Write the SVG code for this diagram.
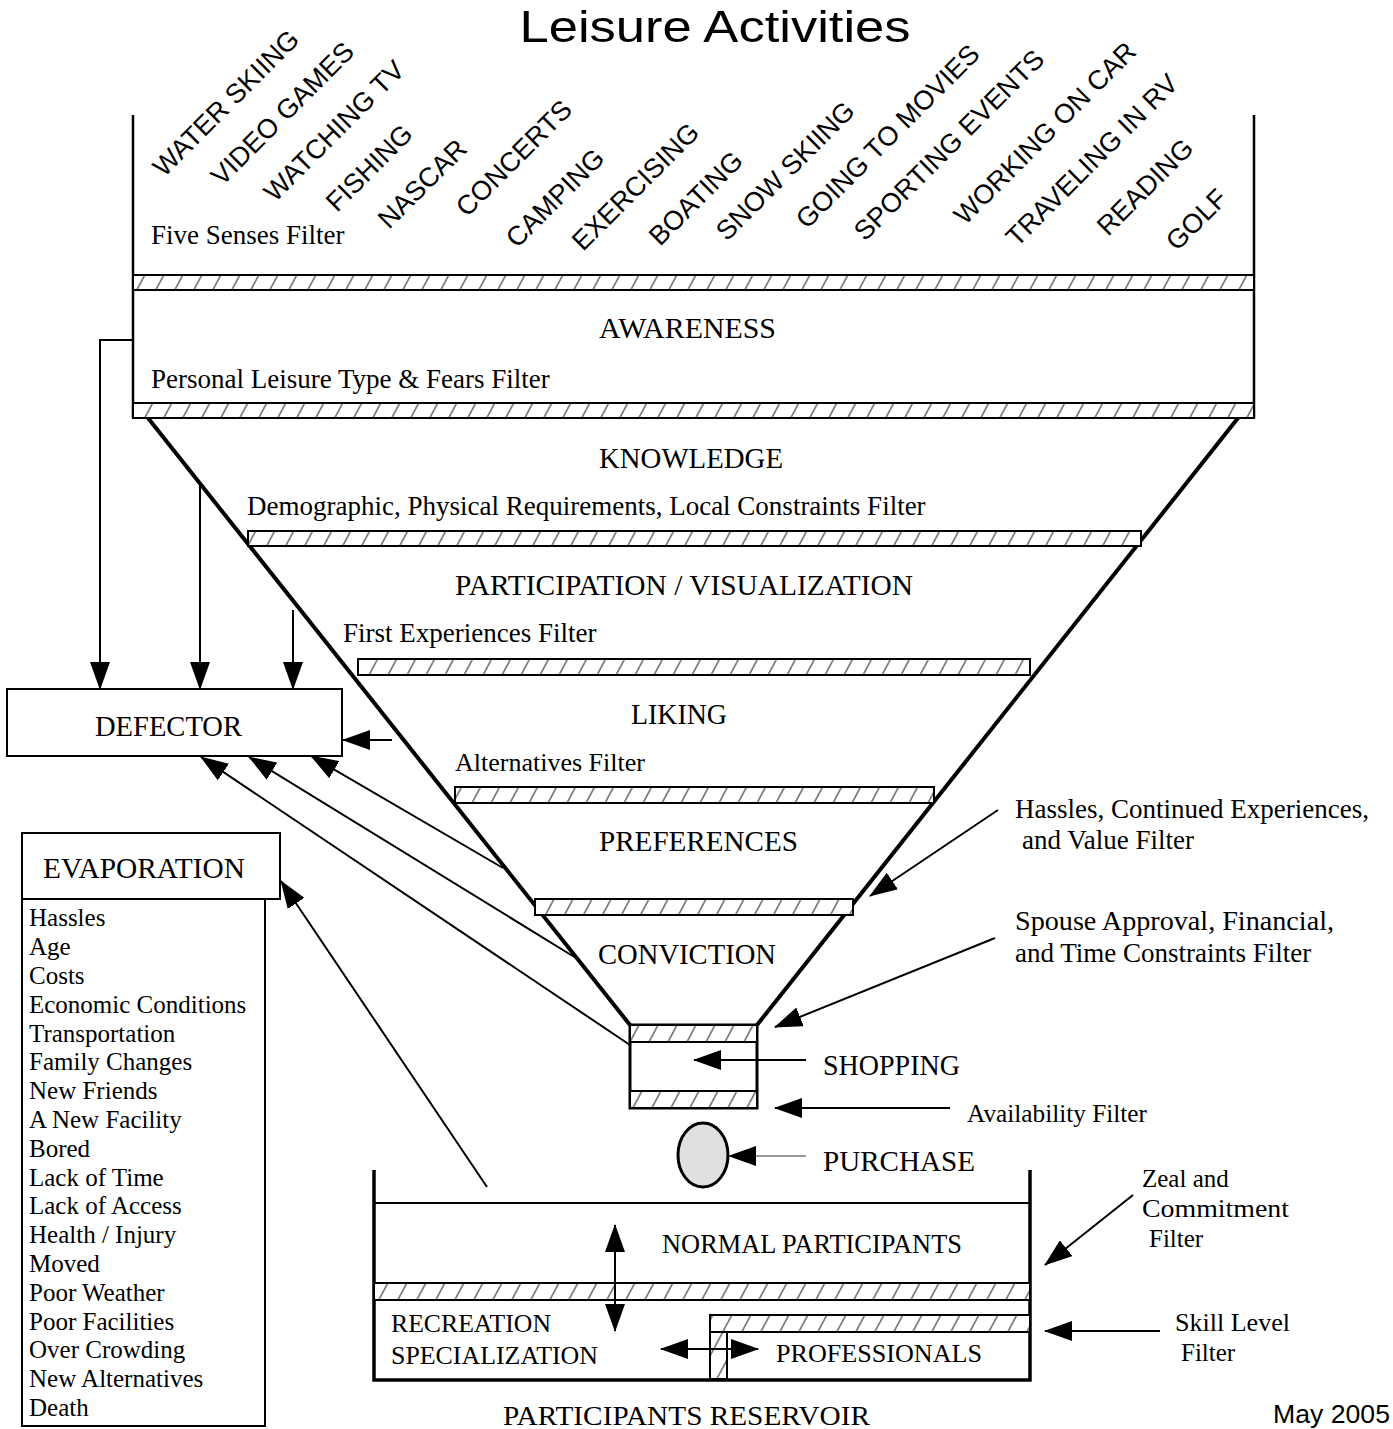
<svg xmlns="http://www.w3.org/2000/svg" width="1393" height="1429" viewBox="0 0 1393 1429">
<style>
.serif{font-family:"Liberation Serif","Times New Roman",serif;fill:#000}
.sans{font-family:"Liberation Sans",Arial,sans-serif;fill:#000}
.act{font-family:"Liberation Sans",Arial,sans-serif;font-size:27px;fill:#000}
.bar{fill:url(#hatch);stroke:#000;stroke-width:2}
.wall{stroke:#000;stroke-width:2.5;fill:none}
.funnel{stroke:#000;stroke-width:4;fill:none}
.conn{stroke:#000;stroke-width:2;fill:none;marker-end:url(#arr)}
.dbl{stroke:#000;stroke-width:2;fill:none;marker-end:url(#arr);marker-start:url(#arr)}
.box{fill:#fff;stroke:#000;stroke-width:2}
</style>
<defs>
<pattern id="hatch" width="19" height="10" patternUnits="userSpaceOnUse" patternTransform="skewX(-28)">
<rect width="19" height="10" fill="#fff"/>
<line x1="6" y1="-1" x2="6" y2="11" stroke="#000" stroke-width="1"/>
</pattern>
<marker id="arr" markerUnits="userSpaceOnUse" markerWidth="28" markerHeight="20" refX="27" refY="10" orient="auto-start-reverse">
<path d="M0,0 L28,10 L0,20 Z" fill="#000"/>
</marker>
</defs>
<rect width="1393" height="1429" fill="#fff"/>

<g id="title">
<text class="sans" x="715" y="42" font-size="44" text-anchor="middle" textLength="391" lengthAdjust="spacingAndGlyphs">Leisure Activities</text>
</g>

<g id="activities">
<text class="act" x="164" y="178" transform="rotate(-45 164 178)">WATER SKIING</text>
<text class="act" x="222" y="187" transform="rotate(-45 222 187)">VIDEO GAMES</text>
<text class="act" x="275" y="203" transform="rotate(-45 275 203)">WATCHING TV</text>
<text class="act" x="337" y="213" transform="rotate(-45 337 213)">FISHING</text>
<text class="act" x="389" y="230" transform="rotate(-45 389 230)">NASCAR</text>
<text class="act" x="467" y="218" transform="rotate(-45 467 218)">CONCERTS</text>
<text class="act" x="517" y="249" transform="rotate(-45 517 249)">CAMPING</text>
<text class="act" x="583" y="252" transform="rotate(-45 583 252)">EXERCISING</text>
<text class="act" x="660" y="247" transform="rotate(-45 660 247)" font-size="34">BOATING</text>
<text class="act" x="727" y="242" transform="rotate(-45 727 242)">SNOW SKIING</text>
<text class="act" x="807" y="230" transform="rotate(-45 807 230)">GOING TO MOVIES</text>
<text class="act" x="865" y="242" transform="rotate(-45 865 242)">SPORTING EVENTS</text>
<text class="act" x="965" y="226" transform="rotate(-45 965 226)">WORKING ON CAR</text>
<text class="act" x="1017" y="248" transform="rotate(-45 1017 248)">TRAVELING IN RV</text>
<text class="act" x="1108" y="237" transform="rotate(-45 1108 237)">READING</text>
<text class="act" x="1177" y="252" transform="rotate(-45 1177 252)">GOLF</text>
</g>

<g id="funnel">
<line class="funnel" x1="148" y1="418" x2="630" y2="1025"/>
<line class="funnel" x1="1238" y1="418" x2="757" y2="1025"/>
</g>

<g id="awareness">
<line class="wall" x1="133" y1="115" x2="133" y2="418"/>
<line class="wall" x1="1254" y1="115" x2="1254" y2="418"/>
<rect class="bar" x="133" y="275" width="1121" height="15"/>
<rect class="bar" x="133" y="403" width="1121" height="15"/>
<text class="serif" x="151" y="244" font-size="27">Five Senses Filter</text>
<text class="serif" x="599" y="338" font-size="29.5" textLength="177" lengthAdjust="spacingAndGlyphs">AWARENESS</text>
<text class="serif" x="151" y="388" font-size="27">Personal Leisure Type &amp; Fears Filter</text>
</g>

<g id="knowledge">
<text class="serif" x="599" y="468" font-size="29.5" textLength="184" lengthAdjust="spacingAndGlyphs">KNOWLEDGE</text>
<text class="serif" x="247" y="515" font-size="27">Demographic, Physical Requirements, Local Constraints Filter</text>
<rect class="bar" x="248" y="531" width="893" height="15"/>
</g>

<g id="participation">
<text class="serif" x="455" y="595" font-size="29.5" textLength="458" lengthAdjust="spacingAndGlyphs">PARTICIPATION / VISUALIZATION</text>
<text class="serif" x="343" y="642" font-size="27">First Experiences Filter</text>
<rect class="bar" x="358" y="659" width="672" height="16"/>
</g>

<g id="liking">
<text class="serif" x="631" y="724" font-size="29.5" textLength="96" lengthAdjust="spacingAndGlyphs">LIKING</text>
<text class="serif" x="455" y="771" font-size="26">Alternatives Filter</text>
<rect class="bar" x="455" y="787" width="479" height="16"/>
</g>

<g id="preferences">
<text class="serif" x="599" y="851" font-size="29.5" textLength="199" lengthAdjust="spacingAndGlyphs">PREFERENCES</text>
<rect class="bar" x="535" y="899" width="318" height="16"/>
</g>

<g id="conviction">
<text class="serif" x="598" y="964" font-size="29.5" textLength="178" lengthAdjust="spacingAndGlyphs">CONVICTION</text>
</g>

<g id="shopping">
<rect x="630" y="1025" width="127" height="83" fill="#fff" stroke="#000" stroke-width="3"/>
<rect class="bar" x="630" y="1025" width="127" height="17"/>
<rect class="bar" x="630" y="1091" width="127" height="17"/>
<text class="serif" x="823" y="1075" font-size="29" textLength="137" lengthAdjust="spacingAndGlyphs">SHOPPING</text>
<text class="serif" x="967" y="1122" font-size="25" textLength="180" lengthAdjust="spacingAndGlyphs">Availability Filter</text>
</g>

<g id="purchase">
<ellipse cx="703" cy="1155" rx="25" ry="32" fill="#e0e0e0" stroke="#000" stroke-width="3"/>
<text class="serif" x="823" y="1171" font-size="29" textLength="152" lengthAdjust="spacingAndGlyphs">PURCHASE</text>
</g>

<g id="filter-labels">
<text class="serif" x="1015" y="818" font-size="27">Hassles, Continued Experiences,</text>
<text class="serif" x="1022" y="849" font-size="27">and Value Filter</text>
<text class="serif" x="1015" y="930" font-size="27" textLength="319" lengthAdjust="spacingAndGlyphs">Spouse Approval, Financial,</text>
<text class="serif" x="1015" y="962" font-size="27">and Time Constraints Filter</text>
<text class="serif" x="1142" y="1187" font-size="25">Zeal and</text>
<text class="serif" x="1142" y="1217" font-size="25" textLength="147" lengthAdjust="spacingAndGlyphs">Commitment</text>
<text class="serif" x="1149" y="1247" font-size="25">Filter</text>
<text class="serif" x="1175" y="1331" font-size="25" textLength="115" lengthAdjust="spacingAndGlyphs">Skill Level</text>
<text class="serif" x="1181" y="1361" font-size="25">Filter</text>
</g>

<g id="defector">
<rect class="box" x="7" y="689" width="335" height="67"/>
<text class="serif" x="95" y="736" font-size="29.5" textLength="147" lengthAdjust="spacingAndGlyphs">DEFECTOR</text>
</g>

<g id="evaporation">
<rect class="box" x="22" y="833" width="258" height="66"/>
<text class="serif" x="43" y="878" font-size="29.5" textLength="202" lengthAdjust="spacingAndGlyphs">EVAPORATION</text>
<rect class="box" x="22" y="899" width="243" height="527"/>
<g class="serif" font-size="25">
<text x="29" y="926">Hassles</text>
<text x="29" y="955">Age</text>
<text x="29" y="984">Costs</text>
<text x="29" y="1013">Economic Conditions</text>
<text x="29" y="1042">Transportation</text>
<text x="29" y="1070">Family Changes</text>
<text x="29" y="1099">New Friends</text>
<text x="29" y="1128">A New Facility</text>
<text x="29" y="1157">Bored</text>
<text x="29" y="1186">Lack of Time</text>
<text x="29" y="1214">Lack of Access</text>
<text x="29" y="1243">Health / Injury</text>
<text x="29" y="1272">Moved</text>
<text x="29" y="1301">Poor Weather</text>
<text x="29" y="1330">Poor Facilities</text>
<text x="29" y="1358">Over Crowding</text>
<text x="29" y="1387">New Alternatives</text>
<text x="29" y="1416">Death</text>
</g>
</g>

<g id="reservoir">
<path d="M374,1170 V1380 H1030 V1170" fill="none" stroke="#000" stroke-width="3.5"/>
<line x1="374" y1="1203" x2="1030" y2="1203" stroke="#000" stroke-width="2"/>
<rect class="bar" x="374" y="1283" width="656" height="17"/>
<rect class="bar" x="710" y="1315" width="320" height="17"/>
<rect class="bar" x="710" y="1332" width="17" height="47"/>
<text class="serif" x="662" y="1253" font-size="26.5" textLength="300" lengthAdjust="spacingAndGlyphs">NORMAL PARTICIPANTS</text>
<text class="serif" x="391" y="1332" font-size="26" textLength="160" lengthAdjust="spacingAndGlyphs">RECREATION</text>
<text class="serif" x="391" y="1364" font-size="26" textLength="207" lengthAdjust="spacingAndGlyphs">SPECIALIZATION</text>
<text class="serif" x="776" y="1362" font-size="26" textLength="206" lengthAdjust="spacingAndGlyphs">PROFESSIONALS</text>
<text class="serif" x="503" y="1425" font-size="28" textLength="367" lengthAdjust="spacingAndGlyphs">PARTICIPANTS RESERVOIR</text>
</g>

<g id="date">
<text class="sans" x="1273" y="1423" font-size="25" textLength="117" lengthAdjust="spacingAndGlyphs">May 2005</text>
</g>

<g id="connectors">
<path class="conn" d="M133,340 H100 V689"/>
<path class="conn" d="M200,482 V689"/>
<path class="conn" d="M293,610 V689"/>
<path class="conn" d="M392,740 H343"/>
<path class="conn" d="M503,868 L311,756"/>
<path class="conn" d="M576,958 L249,757"/>
<path class="conn" d="M630,1045 L201,757"/>
<path class="conn" d="M487,1187 L281,881"/>
<path class="conn" d="M806,1060 H694"/>
<path class="conn" d="M950,1108 H775"/>
<path d="M806,1156 H729" fill="none" stroke="#777" stroke-width="1.5" marker-end="url(#arr)"/>
<path class="conn" d="M998,810 L870,896"/>
<path class="conn" d="M995,938 L775,1027"/>
<path class="conn" d="M1133,1195 L1045,1265"/>
<path class="conn" d="M1160,1331 H1045"/>
<path class="dbl" d="M615,1225 V1331"/>
<path class="dbl" d="M661,1349 H758"/>
</g>
</svg>
